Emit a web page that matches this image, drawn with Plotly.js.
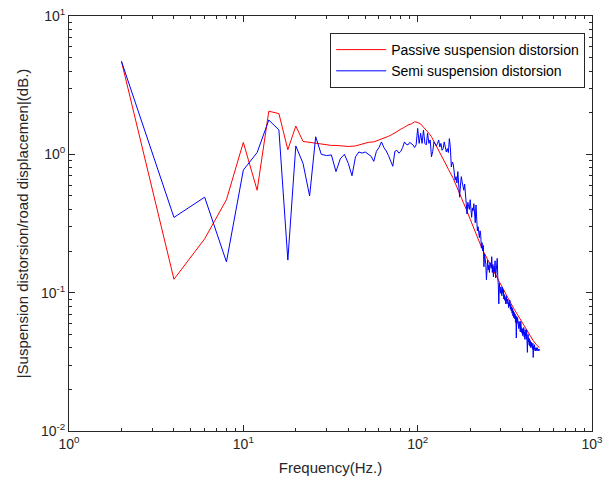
<!DOCTYPE html>
<html>
<head>
<meta charset="utf-8">
<script src="https://cdn.plot.ly/plotly-3.0.1.min.js"></script>
<style>html,body{margin:0;padding:0;background:#fff;}#plot{width:606px;height:486px;}</style>
</head>
<body>
<div id="plot"></div>
<script>
// Passive suspension (smooth curve)
const freqPassive = [2,4,6,8,10,12,14,16,18,20,22,24,26,28,30,32,34,36,38,40,44,48,52,56,60,64,68,72,76,80,84,88,92,96,100,104,108,112,116,120,125,130,135,140,145,150,155,160,165,170,175,180,190,200,210,220,230,240,250,260,270,280,290,300,320,340,360,380,400,420,440,460,480,500];
const passive = [4.7,0.125,0.245,0.47,1.22,0.55,2.05,1.97,1.08,1.6,1.24,1.22,1.21,1.18,1.17,1.16,1.16,1.15,1.15,1.14,1.15,1.18,1.22,1.23,1.27,1.30,1.35,1.40,1.45,1.52,1.57,1.63,1.66,1.72,1.70,1.66,1.57,1.50,1.42,1.34,1.22,1.09,1.02,0.93,0.85,0.78,0.73,0.67,0.61,0.56,0.52,0.48,0.40,0.34,0.29,0.25,0.22,0.195,0.178,0.163,0.148,0.135,0.124,0.114,0.098,0.085,0.075,0.067,0.06,0.054,0.049,0.045,0.042,0.04];

// Semi-active suspension (noisy curve)
const freqSemi = [
2,4,6,8,10,12,14,16,18,20,22,24,26,28,30,32,34,36,38,40,42,44,46,48,50,
52,54,56,58,60,62,64,66,68,70,72,74,76,78,80,82,84,86,88,90,92,94,96,98,100,
102,104,106,108,110,112,114,116,118,120,122,124,126,128,130,132,134,136,138,140,142,144,146,148,150,
152,154,156,158,160,162,164,166,168,170,172,174,176,178,180,182,184,186,188,190,192,194,196,198,200,
202,204,206,208,210,212,214,216,218,220,222,224,226,228,230,232,234,236,238,240,242,244,246,248,250,
252,254,256,258,260,262,264,266,268,270,272,274,276,278,280,282,284,286,288,290,292,294,296,298,300,
302,304,306,308,310,312,314,316,318,320,322,324,326,328,330,332,334,336,338,340,342,344,346,348,350,
352,354,356,358,360,362,364,366,368,370,372,374,376,378,380,382,384,386,388,390,392,394,396,398,400,
402,404,406,408,410,412,414,416,418,420,422,424,426,428,430,432,434,436,438,440,442,444,446,448,450,
452,454,456,458,460,462,464,466,468,470,472,474,476,478,480,482,484,486,488,490,492,494,496,498,500];
const semi = [
4.7,0.35,0.49,0.167,0.77,1.03,1.77,1.50,0.172,1.15,0.86,0.50,1.34,1.0,0.98,0.99,0.75,0.93,1.0,0.86,0.70,0.96,1.04,1.02,1.04,
1.0,0.97,0.89,1.05,1.12,1.23,1.12,1.06,0.98,0.90,0.82,1.05,1.07,1.02,1.05,1.12,1.23,1.18,1.17,1.22,1.20,1.17,1.12,1.17,1.54,
1.20,1.42,1.20,1.50,1.20,1.17,1.42,1.20,1.27,0.96,1.05,1.23,1.20,1.15,1.20,1.27,1.13,1.20,1.07,1.10,1.23,1.15,1.04,1.10,1.03,
1.30,1.12,0.81,0.88,0.85,0.72,0.65,0.69,0.62,0.75,0.62,0.49,0.60,0.69,0.63,0.58,0.55,0.61,0.47,0.44,0.37,0.45,0.42,0.40,0.47,
0.38,0.35,0.41,0.39,0.44,0.36,0.32,0.43,0.35,0.28,0.30,0.28,0.25,0.28,0.26,0.21,0.23,0.20,0.22,0.154,0.19,0.177,0.16,0.124,0.165,
0.172,0.146,0.158,0.14,0.165,0.163,0.15,0.182,0.14,0.16,0.13,0.155,0.142,0.17,0.128,0.142,0.172,0.177,0.13,0.115,0.083,0.117,0.107,0.099,0.11,
0.105,0.095,0.11,0.099,0.105,0.09,0.097,0.088,0.092,0.083,0.095,0.086,0.083,0.09,0.088,0.078,0.085,0.08,0.088,0.076,0.082,0.074,0.079,0.071,0.077,
0.068,0.074,0.066,0.072,0.065,0.07,0.061,0.068,0.047,0.067,0.06,0.066,0.058,0.064,0.055,0.062,0.057,0.06,0.052,0.062,0.056,0.058,0.051,0.055,0.049,
0.054,0.05,0.056,0.048,0.052,0.046,0.054,0.049,0.051,0.046,0.054,0.048,0.037,0.046,0.05,0.044,0.047,0.042,0.046,0.041,0.045,0.043,0.04,0.044,0.041,
0.043,0.041,0.039,0.043,0.034,0.041,0.038,0.04,0.042,0.039,0.04,0.038,0.04,0.039,0.04,0.038,0.039,0.04,0.039,0.038,0.039,0.039,0.038,0.039,0.039];

const xTickVals = [1,10,100,1000];
const xTickText = ['10<sup>0</sup>','10<sup>1</sup>','10<sup>2</sup>','10<sup>3</sup>'];
const yTickVals = [0.01,0.1,1,10];
const yTickText = ['10<sup>-2</sup>','10<sup>-1</sup>','10<sup>0</sup>','10<sup>1</sup>'];
const xMinor = [2,3,4,5,6,7,8,9,20,30,40,50,60,70,80,90,200,300,400,500,600,700,800,900];
const yMinor = [0.02,0.03,0.04,0.05,0.06,0.07,0.08,0.09,0.2,0.3,0.4,0.5,0.6,0.7,0.8,0.9,2,3,4,5,6,7,8,9];

const traces = [
  {x: freqPassive, y: passive, type:'scatter', mode:'lines', name:'Passive suspension distorsion',
   line:{color:'rgb(255,0,0)', width:1}},
  {x: freqSemi, y: semi, type:'scatter', mode:'lines', name:'Semi suspension distorsion',
   line:{color:'rgb(0,0,255)', width:1}}
];

const axisCommon = {
  type:'log', showline:true, linecolor:'#262626', linewidth:1, mirror:'allticks',
  ticks:'inside', ticklen:6, tickcolor:'#262626', showgrid:false, zeroline:false,
  tickmode:'array', tickfont:{family:'Liberation Sans, Arial, sans-serif', size:14, color:'#262626'}
};

const layout = {
  width:606, height:486,
  margin:{l:69, r:14, t:16, b:55},
  paper_bgcolor:'#fff', plot_bgcolor:'#fff',
  font:{family:'Liberation Sans, Arial, sans-serif', color:'#262626'},
  xaxis: Object.assign({}, axisCommon, {
    range:[0,3], tickvals:xTickVals, ticktext:xTickText,
    minor:{ticks:'inside', ticklen:3, tickcolor:'#262626', tickmode:'array', tickvals:xMinor},
    title:{text:'Frequency(Hz.)', font:{size:15, color:'#262626'}, standoff:11}
  }),
  yaxis: Object.assign({}, axisCommon, {
    range:[-2,1], tickvals:yTickVals, ticktext:yTickText,
    minor:{ticks:'inside', ticklen:3, tickcolor:'#262626', tickmode:'array', tickvals:yMinor},
    title:{text:'|Suspension distorsion/road displacemen|(dB.)', font:{size:15, color:'#262626'}, standoff:8}
  }),
  legend:{x:0.987, y:0.959, xanchor:'right', yanchor:'top', bgcolor:'#fff',
    bordercolor:'#262626', borderwidth:1, font:{size:14, color:'#000'},
    tracegroupgap:0, itemwidth:50},
  showlegend:true
};

Plotly.newPlot('plot', traces, layout, {displayModeBar:false, staticPlot:true});
</script>
</body>
</html>
